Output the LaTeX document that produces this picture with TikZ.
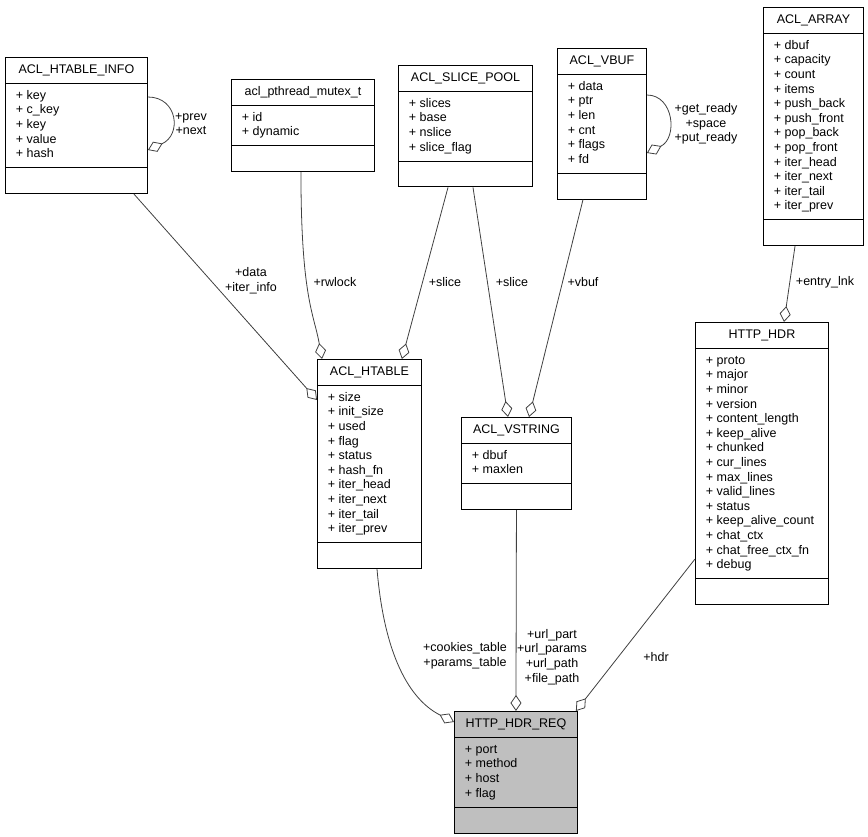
\documentclass[tikz,border=0pt]{standalone}
\usepackage{fontspec}
\setmainfont{Liberation Sans}
\usetikzlibrary{arrows.meta,shapes.multipart}
\definecolor{edgegray}{HTML}{404040}
\definecolor{reqfill}{HTML}{BFBFBF}
\tikzset{
  umlclass/.style={rectangle split, rectangle split parts=3, draw=black, line width=0.9pt,
                   fill=white, rectangle split part align={center,left,left}, align=left,
                   anchor=north west, inner xsep=10.5pt, inner ysep=5.2pt,
                   font=\fontsize{12.5}{14.6}\selectfont},
  focus/.style={umlclass, fill=reqfill},
  member/.style={draw=edgegray, line width=0.8pt,
                 -{Diamond[open, length=16pt, width=11pt]}},
  role/.style={font=\fontsize{12.5}{14.6}\selectfont, align=center, inner sep=0pt}
}

\begin{document}
\begin{tikzpicture}[x=1pt, y=-1pt]
  \useasboundingbox (0,0) rectangle (868,837);

  %% top row
  \node[umlclass, minimum width=142pt] (info) at (5,57) {\strut ACL\_HTABLE\_INFO
    \nodepart{two}\strut + key\\+ c\_key\\+ key\\+ value\\+ hash\strut
    \nodepart{three}\strut};
  \node[umlclass, minimum width=143pt] (mutex) at (231,79) {\strut acl\_pthread\_mutex\_t
    \nodepart{two}\strut + id\\+ dynamic\strut
    \nodepart{three}\strut};
  \node[umlclass, minimum width=134pt] (pool) at (398,65) {\strut ACL\_SLICE\_POOL
    \nodepart{two}\strut + slices\\+ base\\+ nslice\\+ slice\_flag\strut
    \nodepart{three}\strut};
  \node[umlclass, minimum width=89pt] (vbuf) at (557,48) {\strut ACL\_VBUF
    \nodepart{two}\strut + data\\+ ptr\\+ len\\+ cnt\\+ flags\\+ fd\strut
    \nodepart{three}\strut};
  \node[umlclass, minimum width=100pt] (array) at (763,7) {\strut ACL\_ARRAY
    \nodepart{two}\strut + dbuf\\+ capacity\\+ count\\+ items\\+ push\_back\\+ push\_front\\
      + pop\_back\\+ pop\_front\\+ iter\_head\\+ iter\_next\\+ iter\_tail\\+ iter\_prev\strut
    \nodepart{three}\strut};

  %% middle row
  \node[umlclass, minimum width=104pt] (htable) at (317,359) {\strut ACL\_HTABLE
    \nodepart{two}\strut + size\\+ init\_size\\+ used\\+ flag\\+ status\\+ hash\_fn\\
      + iter\_head\\+ iter\_next\\+ iter\_tail\\+ iter\_prev\strut
    \nodepart{three}\strut};
  \node[umlclass, minimum width=110pt] (vstring) at (461,417) {\strut ACL\_VSTRING
    \nodepart{two}\strut + dbuf\\+ maxlen\strut
    \nodepart{three}\strut};
  \node[umlclass, minimum width=133pt] (hdr) at (695,322) {\strut HTTP\_HDR
    \nodepart{two}\strut + proto\\+ major\\+ minor\\+ version\\+ content\_length\\
      + keep\_alive\\+ chunked\\+ cur\_lines\\+ max\_lines\\+ valid\_lines\\+ status\\
      + keep\_alive\_count\\+ chat\_ctx\\+ chat\_free\_ctx\_fn\\+ debug\strut
    \nodepart{three}\strut};

  %% the documented struct
  \node[focus, minimum width=123pt] (req) at (454,711) {\strut HTTP\_HDR\_REQ
    \nodepart{two}\strut + port\\+ method\\+ host\\+ flag\strut
    \nodepart{three}\strut};

  %% members
  \draw[member] ([yshift=-40pt]info.north east) .. controls +(30,0) and +(34,-15)
                .. ([yshift=-93pt]info.north east);
  \draw[member] ([yshift=-47pt]vbuf.north east) .. controls +(27,0) and +(31,-15)
                .. ([yshift=-105pt]vbuf.north east);
  \draw[member] ([xshift=-14pt]info.south east) -- ([yshift=-41pt]htable.north west);
  \draw[member] ([xshift=-2pt]mutex.south) .. controls +(0,125) and +(-8,-45)
                .. ([xshift=5pt]htable.north west);
  \draw[member] ([xshift=50pt]pool.south west) -- ([xshift=-20pt]htable.north east);
  \draw[member] ([xshift=75pt]pool.south west) -- ([xshift=47pt]vstring.north west);
  \draw[member] ([xshift=26pt]vbuf.south west) -- ([xshift=68pt]vstring.north west);
  \draw[member] ([xshift=32pt]array.south west) -- ([xshift=89pt]hdr.north west);
  \draw[member] ([xshift=60pt]htable.south west) .. controls +(8,95) and +(-40,-20)
                .. ([yshift=-11pt]req.north west);
  \draw[member] (vstring.south) -- (req.north);
  \draw[member] ([yshift=46pt]hdr.south west) -- ([xshift=-2pt]req.north east);

  %% role names
  \node[role] (prevnext) at (191,124) {+prev\\+next};
  \node[role] (readyspace) at (706,124) {+get\_ready\\+space\\+put\_ready};
  \node[role] (datainfo) at (251,281) {+data\\+iter\_info};
  \node[role] (rwlock) at (335,282) {+rwlock};
  \node[role] (slicea) at (445,282) {+slice};
  \node[role] (sliceb) at (512,282) {+slice};
  \node[role] (vbuflbl) at (583,282) {+vbuf};
  \node[role] (entrylnk) at (825,282) {+entry\_lnk};
  \node[role] (tables) at (465,656) {+cookies\_table\\+params\_table};
  \node[role] (urls) at (552,657) {+url\_part\\+url\_params\\+url\_path\\+file\_path};
  \node[role] (hdrlbl) at (656,657) {+hdr};
\end{tikzpicture}
\end{document}
